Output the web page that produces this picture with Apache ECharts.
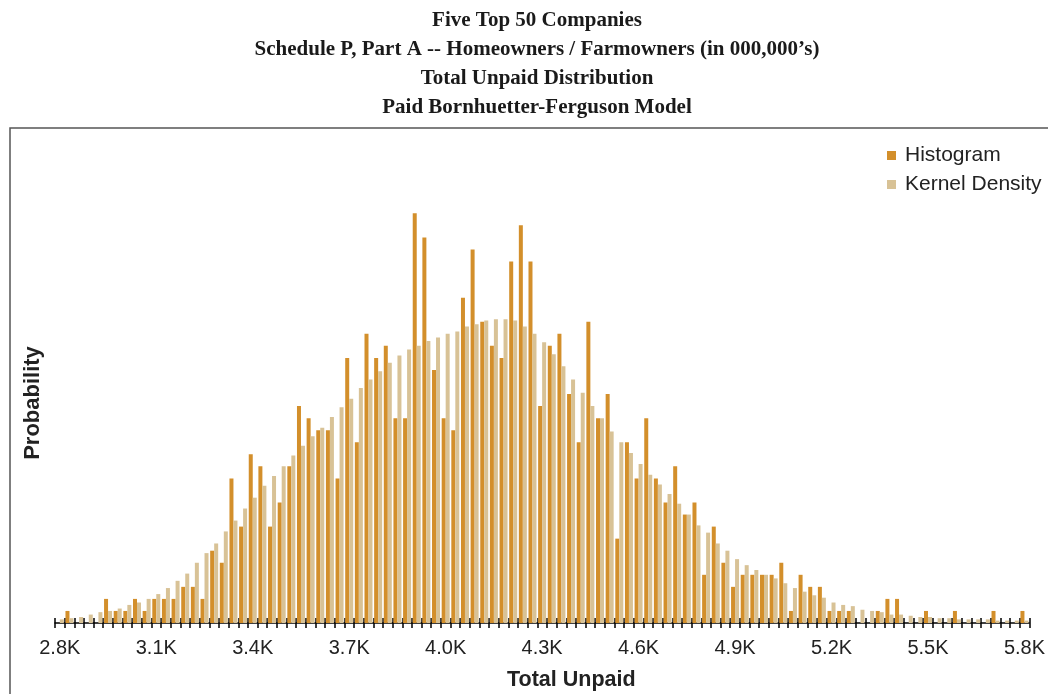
<!DOCTYPE html>
<html>
<head>
<meta charset="utf-8">
<script src="https://cdn.jsdelivr.net/npm/echarts@6/dist/echarts.min.js"></script>
<style>
html,body{margin:0;padding:0;background:#fff;}
#chart{width:1048px;height:694px;}
</style>
</head>
<body>
<div id="chart"></div>
<script>
const titleLines = [
  "Five Top 50 Companies",
  "Schedule P, Part A -- Homeowners / Farmowners (in 000,000\u2019s)",
  "Total Unpaid Distribution",
  "Paid Bornhuetter-Ferguson Model"
];
const seriesNames = ["Histogram", "Kernel Density"];
const xAxisTitle = "Total Unpaid";
const yAxisTitle = "Probability";

// bin centres (Total Unpaid)
const categories = [
  2800,2830,2860,2890,2920,2950,2980,3010,3040,3070,
  3100,3130,3160,3190,3220,3250,3280,3310,3340,3370,
  3400,3430,3460,3490,3520,3550,3580,3610,3640,3670,
  3700,3730,3760,3790,3820,3850,3880,3910,3940,3970,
  4000,4030,4060,4090,4120,4150,4180,4210,4240,4270,
  4300,4330,4360,4390,4420,4450,4480,4510,4540,4570,
  4600,4630,4660,4690,4720,4750,4780,4810,4840,4870,
  4900,4930,4960,4990,5020,5050,5080,5110,5140,5170,
  5200,5230,5260,5290,5320,5350,5380,5410,5440,5470,
  5500,5530,5560,5590,5620,5650,5680,5710,5740,5770,
  5800
];

// histogram probabilities
const histogram = [
  0.000,0.001,0.000,0.000,0.000,0.002,0.001,0.001,0.002,0.001,
  0.002,0.002,0.002,0.003,0.003,0.002,0.006,0.005,0.012,0.008,
  0.014,0.013,0.008,0.010,0.013,0.018,0.017,0.016,0.016,0.012,
  0.022,0.015,0.024,0.022,0.023,0.017,0.017,0.034,0.032,0.021,
  0.017,0.016,0.027,0.031,0.025,0.023,0.022,0.030,0.033,0.030,
  0.018,0.023,0.024,0.019,0.015,0.025,0.017,0.019,0.007,0.015,
  0.012,0.017,0.012,0.010,0.013,0.009,0.010,0.004,0.008,0.005,
  0.003,0.004,0.004,0.004,0.004,0.005,0.001,0.004,0.003,0.003,
  0.001,0.001,0.001,0.000,0.000,0.001,0.002,0.002,0.000,0.000,
  0.001,0.000,0.000,0.001,0.000,0.000,0.000,0.001,0.000,0.000,
  0.001
];

// kernel density probabilities
const kernelDensity = [
  0.0003,0.0004,0.0005,0.0007,0.0009,0.0010,0.0012,0.0015,0.0017,0.0020,
  0.0024,0.0029,0.0035,0.0041,0.0050,0.0058,0.0066,0.0076,0.0085,0.0095,
  0.0104,0.0114,0.0122,0.0130,0.0139,0.0147,0.0155,0.0162,0.0171,0.0179,
  0.0186,0.0195,0.0202,0.0209,0.0216,0.0222,0.0227,0.0230,0.0234,0.0237,
  0.0240,0.0242,0.0246,0.0248,0.0251,0.0252,0.0252,0.0251,0.0246,0.0240,
  0.0233,0.0223,0.0213,0.0202,0.0191,0.0180,0.0170,0.0159,0.0150,0.0141,
  0.0132,0.0123,0.0115,0.0107,0.0099,0.0090,0.0081,0.0075,0.0066,0.0060,
  0.0053,0.0048,0.0044,0.0040,0.0037,0.0033,0.0029,0.0026,0.0023,0.0021,
  0.0017,0.0015,0.0014,0.0011,0.0010,0.0009,0.0007,0.0007,0.0006,0.0005,
  0.0005,0.0004,0.0004,0.0003,0.0003,0.0003,0.0003,0.0002,0.0002,0.0002,
  0.0002
];

const chart = echarts.init(document.getElementById('chart'), null, {renderer: 'canvas'});
const sans = "'Liberation Sans', Arial, sans-serif";
const serif = "'Liberation Serif', 'Times New Roman', serif";

chart.setOption({
  animation: false,
  backgroundColor: '#ffffff',
  title: {
    text: titleLines.join('\n'),
    left: 537,
    textAlign: 'center',
    top: 6,
    padding: 0,
    textStyle: {fontFamily: serif, fontWeight: 'bold', fontSize: 21, lineHeight: 29, color: '#1a1a1a'}
  },
  legend: {
    data: seriesNames,
    orient: 'vertical',
    left: 887,
    top: 145,
    icon: 'rect',
    itemWidth: 9,
    itemHeight: 9,
    itemGap: 8,
    padding: 0,
    textStyle: {fontFamily: sans, fontSize: 21, color: '#222', padding: [0, 0, 0, 4]}
  },
  graphic: [
    {type: 'rect', shape: {x: 10, y: 128, width: 1100, height: 700}, style: {fill: 'none', stroke: '#555', lineWidth: 1.5}, silent: true},
    {type: 'text', left: 507, top: 669, style: {text: xAxisTitle, font: "bold 21.5px 'Liberation Sans', Arial, sans-serif", fill: '#222'}},
    {type: 'text', x: 33, y: 403, rotation: Math.PI / 2, style: {text: yAxisTitle, font: "bold 22px 'Liberation Sans', Arial, sans-serif", fill: '#222', align: 'center', verticalAlign: 'middle'}}
  ],
  grid: {left: 55, right: 15, top: 141, bottom: 71, containLabel: false},
  xAxis: [
    {
      type: 'category',
      data: categories,
      boundaryGap: true,
      axisLine: {show: true, lineStyle: {color: '#000', width: 1.5}},
      axisTick: {show: true, interval: 0, length: 5, lineStyle: {color: '#000', width: 1.5}},
      axisLabel: {
        show: true, interval: 9, fontFamily: sans, fontSize: 20, color: '#222', margin: 15,
        formatter: v => (Number(v) / 1000).toFixed(1) + 'K'
      },
      splitLine: {show: false}
    },
    {
      type: 'category',
      data: categories,
      position: 'bottom',
      boundaryGap: true,
      axisLine: {show: false},
      axisTick: {show: true, inside: true, interval: 0, length: 5, lineStyle: {color: '#000', width: 1.5}},
      axisLabel: {show: false},
      splitLine: {show: false}
    }
  ],
  yAxis: {
    type: 'value', min: 0, max: 0.04, show: false, splitLine: {show: false}
  },
  series: [
    {
      name: seriesNames[0], type: 'bar', xAxisIndex: 0, data: histogram,
      barWidth: 4, barGap: '0%',
      itemStyle: {color: '#D38F2B'}
    },
    {
      name: seriesNames[1], type: 'bar', xAxisIndex: 0, data: kernelDensity,
      barWidth: 4, barGap: '0%',
      itemStyle: {color: '#D8C296'}
    }
  ]
});
</script>
</body>
</html>
